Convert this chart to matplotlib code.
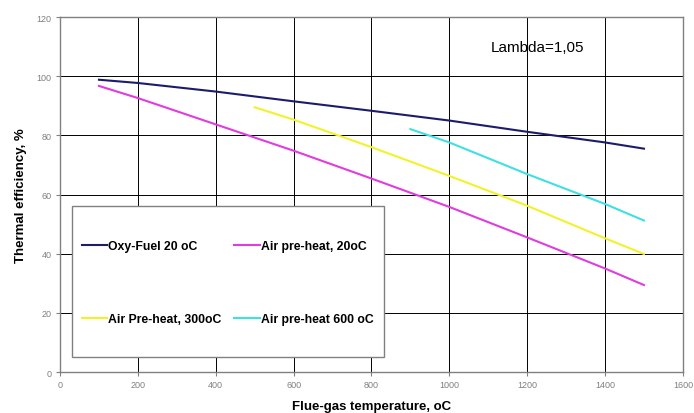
import matplotlib
matplotlib.use('Agg')
import matplotlib.pyplot as plt
from matplotlib.patches import Rectangle

plt.rcParams['font.family'] = ['Liberation Sans', 'DejaVu Sans']

# data
t_oxy = [100, 200, 400, 600, 800, 1000, 1200, 1400, 1500]
eff_oxy = [98.8, 97.7, 94.8, 91.5, 88.3, 85.0, 81.2, 77.6, 75.5]

t_air20 = [100, 200, 400, 600, 800, 1000, 1200, 1400, 1500]
eff_air20 = [96.7, 92.6, 83.7, 74.8, 65.4, 55.8, 45.5, 35.0, 29.4]

t_air300 = [500, 600, 800, 1000, 1200, 1400, 1500]
eff_air300 = [89.5, 85.3, 76.0, 66.3, 56.2, 45.2, 39.9]

t_air600 = [900, 1000, 1200, 1400, 1500]
eff_air600 = [82.1, 77.6, 66.9, 56.8, 51.2]

labels = ['Oxy-Fuel 20 oC', 'Air pre-heat, 20oC', 'Air Pre-heat, 300oC', 'Air pre-heat 600 oC']
colors = ['#1c1c6a', '#e03ce0', '#f2f22a', '#3ee0e0']

fig = plt.figure(figsize=(6.94, 4.14), dpi=100)
ax = fig.add_axes([0.0865, 0.099, 0.8975, 0.8575])

l1, = ax.plot(t_oxy, eff_oxy, color=colors[0], lw=1.5)
l2, = ax.plot(t_air20, eff_air20, color=colors[1], lw=1.5)
l3, = ax.plot(t_air300, eff_air300, color=colors[2], lw=1.5)
l4, = ax.plot(t_air600, eff_air600, color=colors[3], lw=1.5)

ax.set_xlim(0, 1600)
ax.set_ylim(0, 120)
ax.set_xticks(range(0, 1601, 200))
ax.set_yticks(range(0, 121, 20))
ax.grid(True, color='black', lw=0.7)
ax.set_axisbelow(True)
for s in ax.spines.values():
    s.set_color('#808080')
    s.set_linewidth(1.0)
ax.tick_params(direction='out', length=3, color='#808080', labelsize=6.5, labelcolor='#808080', pad=3)

ax.set_xlabel('Flue-gas temperature, oC', fontsize=9.5, fontweight='bold', labelpad=8)
ax.set_ylabel('Thermal efficiency, %', fontsize=9.5, fontweight='bold', labelpad=7)

ax.text(0.767, 0.915, 'Lambda=1,05', transform=ax.transAxes, ha='center', va='center', fontsize=11)

# legend box drawn separately so the padding can differ horizontally / vertically
box = Rectangle((0.0193, 0.0423), 0.501, 0.425, transform=ax.transAxes,
                facecolor='white', edgecolor='#808080', lw=1.0, zorder=4)
ax.add_patch(box)

leg = ax.legend([l1, l3, l2, l4], [labels[0], labels[2], labels[1], labels[3]],
                ncol=2, loc='center', bbox_to_anchor=(0.269, 0.252),
                frameon=False, prop={'weight': 'bold', 'size': 8.8},
                handlelength=2.1, handletextpad=0.1, labelspacing=5.0,
                borderpad=0, borderaxespad=0, columnspacing=1.0)
leg.set_zorder(5)

fig.savefig('out.png', dpi=100)
